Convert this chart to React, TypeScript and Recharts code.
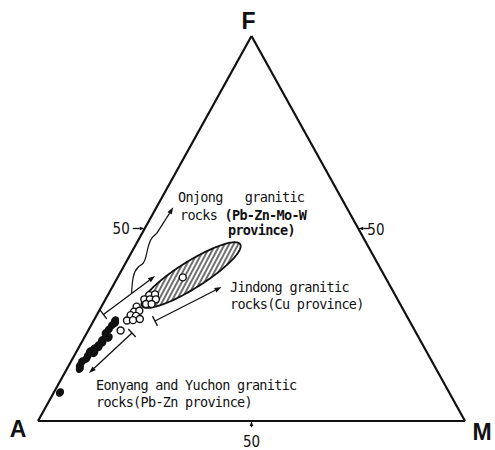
import React from 'react';
import {
  ComposedChart,
  XAxis,
  YAxis,
  Area,
  Scatter,
  ReferenceLine,
  ReferenceDot,
} from 'recharts';

// Compositions are given as [F, M] in percent; A is the remainder (100 - F - M).
type FM = [number, number];

// Eonyang and Yuchon granitic rocks (Pb-Zn province) - filled symbols
const EONYANG_YUCHON: FM[] = [
  [26.1, 5.0], [25.5, 5.3], [24.9, 4.9], [23.8, 4.7], [22.9, 4.4],
  [21.7, 5.7], [21.0, 4.5], [20.4, 4.9], [19.7, 4.3], [19.2, 4.6],
  [18.8, 3.7], [18.05, 3.15], [17.7, 4.3], [17.0, 3.2], [16.2, 3.25],
  [15.45, 2.6], [14.4, 2.6], [13.6, 3.0], [7.4, 1.45],
];

// Jindong granitic rocks (Cu province) - open symbols
const JINDONG: FM[] = [
  [32.7, 9.7], [32.9, 10.95], [31.6, 9.1], [31.6, 10.4], [31.6, 11.8],
  [30.4, 10.1], [30.4, 11.4], [29.7, 8.25], [28.4, 8.3], [28.65, 9.4],
  [27.5, 7.95], [27.3, 9.3], [26.1, 7.8], [26.2, 9.15], [26.5, 10.6],
  [23.5, 7.6], [37.3, 15.25],
];

// Onjong granitic rocks (Pb-Zn-Mo-W province) - hatched field (centre, end of long axis, end of short axis)
const ONJONG_CENTER: FM = [37.9, 16.9];
const ONJONG_MAJOR: FM = [45.9, 24.4];
const ONJONG_MINOR: FM = [34.95, 20.0];

// Trend arrows: [from, to]
const ONJONG_ARROW: FM[] = [[27.66, 1.5], [37.66, 8.57]];
const JINDONG_ARROW: FM[] = [[25.97, 14.41], [34.8, 25.57]];
const EONYANG_ARROW: FM[] = [[22.86, 10.58], [12.47, 5.71]];
const ONJONG_BRACE: FM[] = [
  [33.25, 5.3], [37.4, 3.6], [40.0, 3.5], [41.0, 4.16], [43.6, 3.66],
  [45.3, 3.18], [47.45, 2.9], [48.75, 3.43],
];
const ONJONG_BRACE_TIP: FM[] = [[48.75, 3.43], [55.5, 3.93]];

// Triangle corners and 50 % marks
const CORNER_A: FM = [0, 0];
const CORNER_F: FM = [100, 0];
const CORNER_M: FM = [0, 100];
const TICK_LEFT: FM[] = [[50, -2.8], [50, 0]];
const TICK_RIGHT: FM[] = [[50, 52.6], [50, 50]];
const TICK_BOTTOM: FM[] = [[-1.6, 50.8], [0, 50]];

const toXY = ([f, m]: FM) => ({ x: m + f / 2, y: f });

const toRows = (list: FM[]) => list.map((p) => toXY(p));

// Outline of the hatched field as a band [lower, upper] for each x
function fieldBand(center: FM, major: FM, minor: FM, n = 90) {
  const c = toXY(center);
  const a = toXY(major);
  const b = toXY(minor);
  const U = { x: a.x - c.x, y: a.y - c.y };
  const V = { x: b.x - c.x, y: b.y - c.y };
  const R = Math.hypot(U.x, V.x);
  const phi = Math.atan2(V.x, U.x);
  const rows: { x: number; band: [number, number] }[] = [];
  for (let i = 0; i <= n; i++) {
    const s = -Math.cos((Math.PI * i) / n);
    const d = Math.acos(Math.max(-1, Math.min(1, s)));
    const t1 = phi + d;
    const t2 = phi - d;
    const y1 = c.y + U.y * Math.cos(t1) + V.y * Math.sin(t1);
    const y2 = c.y + U.y * Math.cos(t2) + V.y * Math.sin(t2);
    rows.push({ x: c.x + R * s, band: [Math.min(y1, y2), Math.max(y1, y2)] });
  }
  return rows;
}

const fieldRows = fieldBand(ONJONG_CENTER, ONJONG_MAJOR, ONJONG_MINOR);

const INK = '#111';
const NOTE_FONT = '"DejaVu Sans Mono", "Liberation Mono", monospace';
const CORNER_FONT = '"Liberation Sans", Arial, sans-serif';

const arrowShape = (bar: boolean, head = 7) => (p: any) => {
  const { x1, y1, x2, y2 } = p;
  const dx = x2 - x1;
  const dy = y2 - y1;
  const L = Math.hypot(dx, dy) || 1;
  const ux = dx / L;
  const uy = dy / L;
  const nx = -uy;
  const ny = ux;
  const half = head * 0.36;
  const bx = x2 - ux * head;
  const by = y2 - uy * head;
  return (
    <g>
      <line x1={x1} y1={y1} x2={bx} y2={by} stroke={INK} strokeWidth={1.3} />
      <polygon
        points={`${x2},${y2} ${bx + nx * half},${by + ny * half} ${bx - nx * half},${by - ny * half}`}
        fill={INK}
      />
      {bar && (
        <line
          x1={x1 + nx * 5.5}
          y1={y1 + ny * 5.5}
          x2={x1 - nx * 5.5}
          y2={y1 - ny * 5.5}
          stroke={INK}
          strokeWidth={1.3}
        />
      )}
    </g>
  );
};

function segment(key: string, from: FM, to: FM, shape?: any, width = 2.2) {
  return (
    <ReferenceLine
      key={key}
      segment={[toXY(from), toXY(to)]}
      stroke={INK}
      strokeWidth={width}
      ifOverflow="visible"
      shape={shape}
    />
  );
}

type NoteOpts = {
  dx?: number;
  dy?: number;
  anchor?: 'start' | 'middle' | 'end';
  size?: number;
  weight?: number | string;
  family?: string;
  spacing?: number;
};

function note(key: string, at: FM, content: React.ReactNode, o: NoteOpts = {}) {
  const p = toXY(at);
  const {
    dx = 0,
    dy = 0,
    anchor = 'start',
    size = 13.5,
    weight = 400,
    family = NOTE_FONT,
    spacing = -0.7,
  } = o;
  return (
    <ReferenceDot
      key={key}
      x={p.x}
      y={p.y}
      r={0}
      ifOverflow="visible"
      shape={(s: any) => (
        <text
          x={s.cx + dx}
          y={s.cy + dy}
          textAnchor={anchor}
          dominantBaseline="central"
          fontFamily={family}
          fontSize={size}
          fontWeight={weight}
          letterSpacing={spacing}
          fill={INK}
          style={{ whiteSpace: 'pre' }}
        >
          {content}
        </text>
      )}
    />
  );
}

const cornerOpts = (dx: number, dy: number): NoteOpts => ({
  dx,
  dy,
  anchor: 'middle',
  size: 23,
  weight: 700,
  family: CORNER_FONT,
  spacing: 0,
});

const fiftyOpts = (dx: number, dy: number, anchor: 'start' | 'middle' | 'end'): NoteOpts => ({
  dx,
  dy,
  anchor,
  size: 15,
  family: '"Liberation Sans Narrow", "DejaVu Sans Condensed", sans-serif',
  spacing: 0,
});

const OpenDot = (p: any) => (
  <circle cx={p.cx} cy={p.cy} r={3.5} fill="#fff" stroke={INK} strokeWidth={1.4} />
);
const SolidDot = (p: any) => (
  <ellipse
    cx={p.cx}
    cy={p.cy}
    rx={3.8}
    ry={4.6}
    transform={`rotate(35 ${p.cx} ${p.cy})`}
    fill={INK}
  />
);
const NoDot = () => <g />;

export default function App() {
  return (
    <div>
      <style>{'body{margin:0}'}</style>
      <ComposedChart
        width={495}
        height={450}
        data={fieldRows}
        margin={{ top: 36, right: 30, bottom: 29, left: 38 }}
      >
        <defs>
          <pattern
            id="onjong-hatch"
            width={4}
            height={4}
            patternUnits="userSpaceOnUse"
            patternTransform="rotate(28)"
          >
            <rect width={4} height={4} fill="#fff" />
            <line x1={1} y1={0} x2={1} y2={4} stroke={INK} strokeWidth={1.2} />
          </pattern>
        </defs>
        <XAxis type="number" dataKey="x" domain={[0, 100]} hide />
        <YAxis type="number" dataKey="y" domain={[0, 100]} hide />

        {/* triangle */}
        {segment('side-am', CORNER_A, CORNER_M)}
        {segment('side-af', CORNER_A, CORNER_F)}
        {segment('side-mf', CORNER_M, CORNER_F)}

        {/* 50 % marks */}
        {segment('tick-l', TICK_LEFT[0], TICK_LEFT[1], arrowShape(false, 5))}
        {segment('tick-r', TICK_RIGHT[0], TICK_RIGHT[1], arrowShape(false, 5))}
        {segment('tick-b', TICK_BOTTOM[0], TICK_BOTTOM[1], arrowShape(false, 5))}

        <Area
          dataKey="band"
          type="linear"
          stroke={INK}
          strokeWidth={1.8}
          fill="url(#onjong-hatch)"
          fillOpacity={1}
          isAnimationActive={false}
          dot={false}
          activeDot={false}
        />

        {/* trend arrows */}
        {segment('arrow-onjong', ONJONG_ARROW[0], ONJONG_ARROW[1], arrowShape(true))}
        {segment('arrow-jindong', JINDONG_ARROW[0], JINDONG_ARROW[1], arrowShape(true))}
        {segment('arrow-eonyang', EONYANG_ARROW[0], EONYANG_ARROW[1], arrowShape(true))}
        <Scatter
          data={toRows(ONJONG_BRACE)}
          dataKey="y"
          line={{ stroke: INK, strokeWidth: 1.2 }}
          lineType="joint"
          lineJointType="monotoneY"
          shape={NoDot}
          isAnimationActive={false}
        />
        {segment('brace-tip', ONJONG_BRACE_TIP[0], ONJONG_BRACE_TIP[1], arrowShape(false))}

        <Scatter
          data={toRows(EONYANG_YUCHON)}
          dataKey="y"
          shape={SolidDot}
          isAnimationActive={false}
        />
        <Scatter data={toRows(JINDONG)} dataKey="y" shape={OpenDot} isAnimationActive={false} />

        {/* corner and scale labels */}
        {note('lab-a', CORNER_A, 'A', cornerOpts(-20, 8))}
        {note('lab-f', CORNER_F, 'F', cornerOpts(-3, -15))}
        {note('lab-m', CORNER_M, 'M', cornerOpts(17, 11))}
        {note('fifty-l', TICK_LEFT[0], '50', fiftyOpts(-3, 0, 'end'))}
        {note('fifty-r', TICK_RIGHT[0], '50', fiftyOpts(-2, 1, 'start'))}
        {note('fifty-b', TICK_BOTTOM[1], '50', fiftyOpts(0, 21, 'middle'))}

        {/* group annotations */}
        {note('onjong-1', [58.18, 3.7], 'Onjong\u00A0\u00A0\u00A0granitic')}
        {note(
          'onjong-2',
          [53.5, 6.5],
          <>
            rocks <tspan fontWeight={700}>(Pb-Zn-Mo-W</tspan>
          </>,
        )}
        {note('onjong-3', [49.6, 19.7], 'province)', { weight: 700 })}
        {note('jindong-1', [34.8, 27.56], 'Jindong granitic')}
        {note('jindong-2', [30.39, 29.77], 'rocks(Cu province)')}
        {note('eonyang-1', [9.35, 8.9], 'Eonyang and Yuchon granitic')}
        {note('eonyang-2', [4.94, 11.11], 'rocks(Pb-Zn province)')}
      </ComposedChart>
    </div>
  );
}
